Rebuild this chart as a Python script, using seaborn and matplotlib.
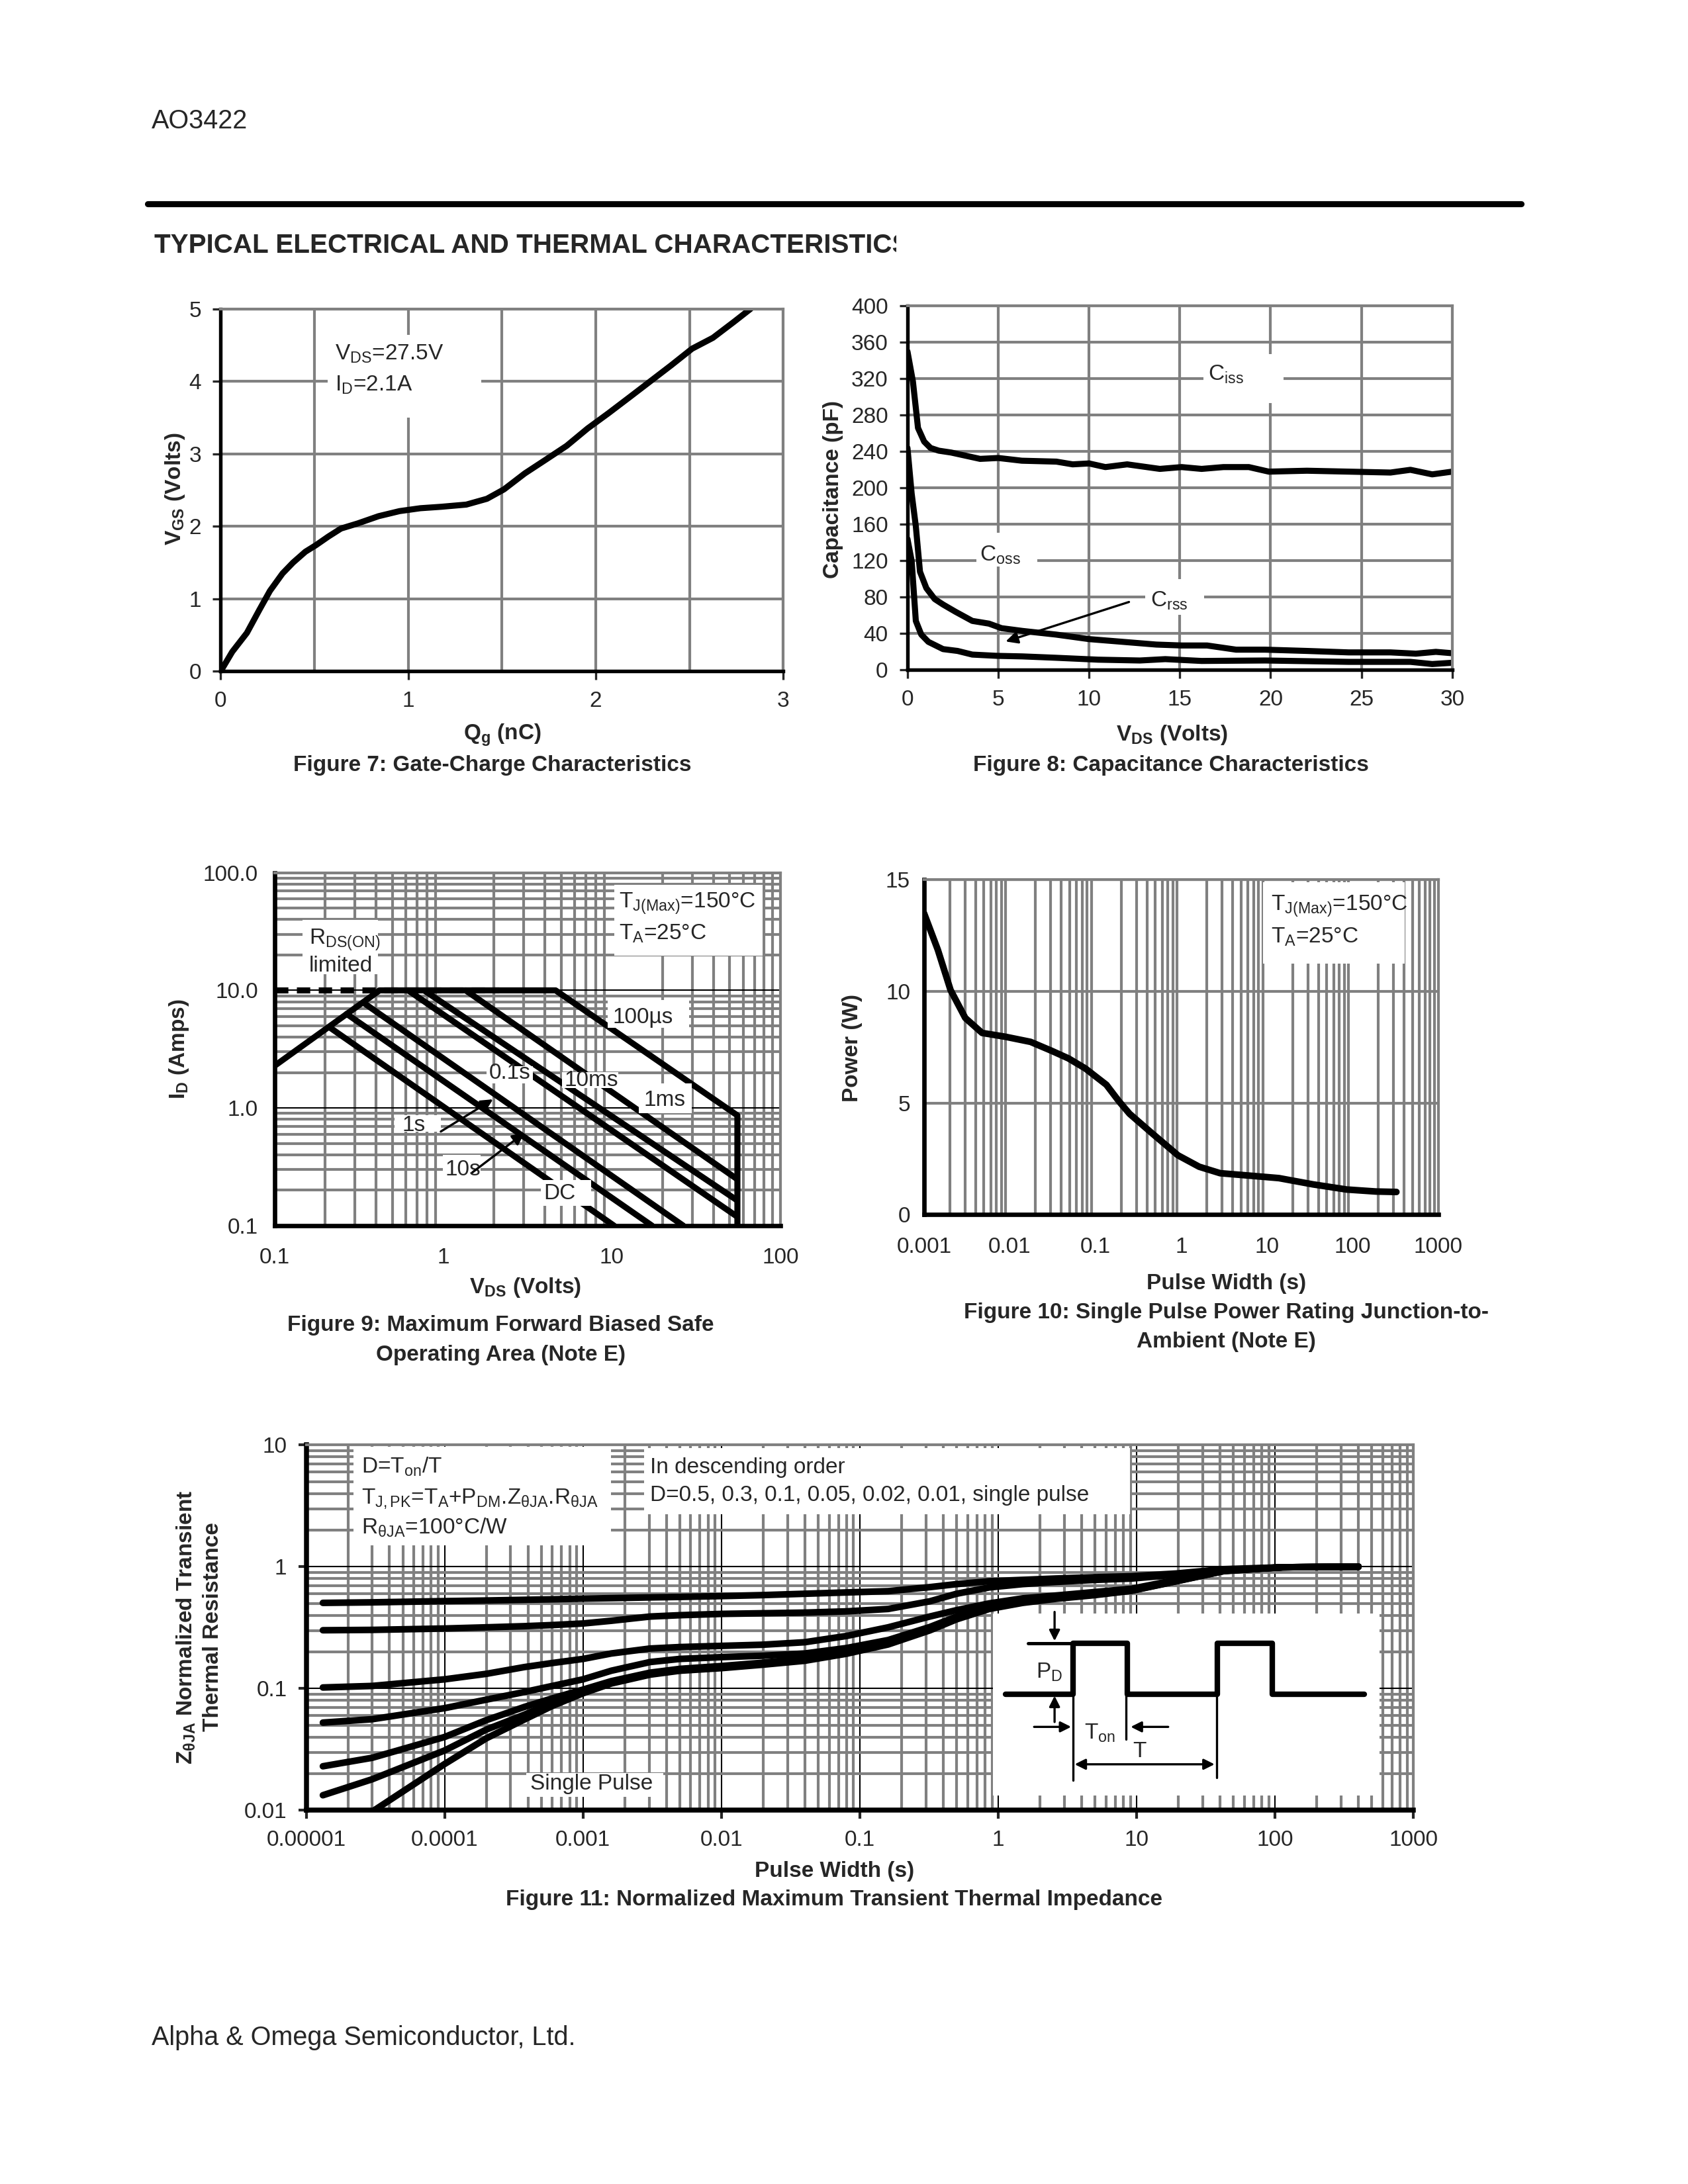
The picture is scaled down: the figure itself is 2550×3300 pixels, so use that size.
import matplotlib
matplotlib.use("Agg")
import matplotlib.pyplot as plt
from matplotlib.patches import Rectangle
from matplotlib.ticker import FixedLocator, FixedFormatter, MultipleLocator, LogLocator, NullFormatter
import seaborn as sns
import numpy as np
import pandas as pd

# Figure 7: gate charge
qg_nc = [0, 0.062, 0.14, 0.207, 0.263, 0.33, 0.386, 0.452, 0.508, 0.575, 0.642, 0.731,
         0.842, 0.954, 1.065, 1.177, 1.31, 1.42, 1.511, 1.622, 1.734, 1.845, 1.957,
         2.068, 2.18, 2.291, 2.402, 2.514, 2.625, 2.737, 2.826]
vgs_v = [0, 0.27, 0.53, 0.85, 1.11, 1.35, 1.50, 1.65, 1.74, 1.86, 1.97, 2.04,
         2.14, 2.21, 2.25, 2.27, 2.30, 2.38, 2.51, 2.73, 2.92, 3.11, 3.35,
         3.56, 3.78, 4.0, 4.22, 4.45, 4.60, 4.82, 5.0]

# Figure 8: capacitance
ciss_vds = [0, 0.3, 0.58, 0.92, 1.27, 1.73, 2.4, 4.0, 5.0, 6.3, 8.2, 9.1, 10, 10.9, 12.1,
            13.9, 15.1, 16.2, 17.4, 18.8, 19.9, 22, 24.3, 26.6, 27.7, 28.9, 30]
ciss_pf = [350, 317, 266, 251, 244, 241, 239, 232, 233, 230, 229, 226, 227, 223, 226,
           221, 223, 221, 223, 223, 218, 219, 218, 217, 220, 215, 218]
coss_vds = [0, 0.23, 0.46, 0.69, 1.04, 1.5, 1.96, 2.65, 3.57, 4.49, 5.18, 6.33, 8.17, 10,
            11.86, 13.7, 15.1, 16.5, 18.1, 19.7, 22, 24.3, 26.6, 28, 29.1, 30]
coss_pf = [244, 194, 158, 108, 90, 78, 72, 64, 54, 51, 46, 43, 39, 34,
           31, 28, 27, 27, 22.4, 22.4, 21, 19.4, 19.4, 18, 20, 18.5]
crss_vds = [0, 0.23, 0.46, 0.76, 1.15, 1.96, 2.76, 3.57, 4.95, 6.33, 8.17, 10.5, 12.8,
            14.2, 16.2, 19.7, 24.3, 27.7, 28.9, 30]
crss_pf = [144, 120, 54, 39, 31, 23, 21, 17, 15.6, 15, 13.5, 11.4, 10.5,
           12, 10, 10.5, 9, 9, 6.6, 8]

# Figure 9: safe operating area
soa_names = ["RDS(ON)", "100us", "1ms", "10ms", "0.1s", "1s", "10s", "DC"]
soa_vds = [[0.1, 0.42], [0.42, 4.64, 55.5, 55.5], [1.36, 55], [0.77, 55], [0.62, 55],
           [0.337, 26.5], [0.268, 17.3], [0.213, 10.3]]
soa_id = [[2.28, 10], [10, 10, 0.865, 0.1], [10, 0.25], [10, 0.165], [10, 0.12],
          [7.85, 0.1], [6.31, 0.1], [4.83, 0.1]]
soa_limit_vds = [0.1, 2.15]
soa_limit_id = [10, 10]

# Figure 10: single pulse power
pulse_s = [0.001, 0.00145, 0.00204, 0.00303, 0.00476, 0.00887, 0.0175, 0.0308, 0.0484,
           0.0762, 0.134, 0.188, 0.25, 0.466, 0.918, 1.62, 2.85, 6.3, 13.8, 34.4, 85, 187, 324]
power_w = [13.5, 11.86, 10.06, 8.81, 8.14, 7.97, 7.74, 7.34, 7.0,
           6.55, 5.82, 5.08, 4.52, 3.62, 2.66, 2.15, 1.86, 1.75, 1.64, 1.36, 1.13, 1.04, 1.02]

# Figure 11: transient thermal impedance
zth_t = [1.32e-5, 3e-5, 1e-4, 2e-4, 3.77e-4, 6e-4, 1e-3, 1.6e-3, 3.05e-3, 5e-3, 1e-2, 2e-2,
         4e-2, 8e-2, 0.16, 0.32, 0.5, 0.86, 1.5, 2.6, 5, 9.2, 19.4, 42.6, 113, 400]
zth_t_single = [3.1e-5] + zth_t[2:]
duty_names = ["0.5", "0.3", "0.1", "0.05", "0.02", "0.01", "single"]
zth_values = [
    [0.505, 0.51, 0.522, 0.528, 0.535, 0.54, 0.547, 0.552, 0.56, 0.565, 0.574, 0.585,
     0.60, 0.615, 0.63, 0.68, 0.72, 0.76, 0.78, 0.80, 0.82, 0.836, 0.88, 0.955, 0.99, 1.0],
    [0.301, 0.303, 0.311, 0.318, 0.325, 0.332, 0.342, 0.36, 0.39, 0.40, 0.41, 0.415,
     0.42, 0.43, 0.45, 0.52, 0.60, 0.676, 0.72, 0.75, 0.78, 0.80, 0.86, 0.94, 0.99, 1.0],
    [0.102, 0.105, 0.119, 0.132, 0.15, 0.162, 0.175, 0.194, 0.213, 0.219, 0.224, 0.229,
     0.24, 0.27, 0.318, 0.39, 0.44, 0.50, 0.55, 0.58, 0.62, 0.66, 0.78, 0.93, 0.99, 1.0],
    [0.0525, 0.056, 0.069, 0.081, 0.0936, 0.105, 0.119, 0.14, 0.165, 0.175, 0.181, 0.186,
     0.194, 0.215, 0.25, 0.32, 0.39, 0.47, 0.52, 0.56, 0.60, 0.645, 0.77, 0.93, 0.99, 1.0],
    [0.023, 0.027, 0.040, 0.055, 0.0706, 0.083, 0.098, 0.115, 0.135, 0.145, 0.153, 0.163,
     0.177, 0.20, 0.24, 0.31, 0.38, 0.46, 0.515, 0.555, 0.595, 0.64, 0.765, 0.925, 0.99, 1.0],
    [0.0133, 0.018, 0.031, 0.046, 0.061, 0.076, 0.0936, 0.112, 0.132, 0.142, 0.15, 0.16,
     0.173, 0.197, 0.235, 0.305, 0.375, 0.455, 0.51, 0.55, 0.59, 0.637, 0.762, 0.922, 0.99, 1.0],
    [0.01, 0.024, 0.039, 0.0557, 0.072, 0.0914, 0.11, 0.13, 0.14, 0.147, 0.157,
     0.169, 0.193, 0.23, 0.30, 0.37, 0.45, 0.505, 0.545, 0.585, 0.635, 0.76, 0.92, 0.99, 1.0],
]

# pulse sketch in the inset (inset units 0..100)
wave_u = [3.3, 20.7, 20.7, 34.8, 34.8, 58.2, 58.2, 72.3, 72.3, 96.2]
wave_v = [55.5, 55.5, 83.8, 83.8, 55.5, 55.5, 83.8, 83.8, 55.5, 55.5]

# tick labels
soa_xticks = [0.1, 1, 10, 100]
soa_xlabels = ["0.1", "1", "10", "100"]
soa_yticks = [0.1, 1, 10, 100]
soa_ylabels = ["0.1", "1.0", "10.0", "100.0"]
pw_xticks = [0.001, 0.01, 0.1, 1, 10, 100, 1000]
pw_xlabels = ["0.001", "0.01", "0.1", "1", "10", "100", "1000"]
zth_xticks = [1e-5, 1e-4, 1e-3, 1e-2, 0.1, 1, 10, 100, 1000]
zth_xlabels = ["0.00001", "0.0001", "0.001", "0.01", "0.1", "1", "10", "100", "1000"]
zth_yticks = [0.01, 0.1, 1, 10]
zth_ylabels = ["0.01", "0.1", "1", "10"]

sns.set_style("white")
plt.rcParams['font.family'] = ['Liberation Sans', 'DejaVu Sans']
plt.rcParams['mathtext.fontset'] = 'custom'
plt.rcParams['mathtext.rm'] = 'Liberation Sans'
plt.rcParams['mathtext.it'] = 'Liberation Sans:italic'
plt.rcParams['mathtext.bf'] = 'Liberation Sans:bold'
plt.rcParams['font.size'] = 8

GRID = '#808080'
FS = 8
LW = 2.2


def frame(ax, axis_lw=1.3):
    for s in ['left', 'bottom']:
        ax.spines[s].set_color('black')
        ax.spines[s].set_linewidth(axis_lw)
    for s in ['top', 'right']:
        ax.spines[s].set_color(GRID)
        ax.spines[s].set_linewidth(1.0)
    ax.set_axisbelow(True)
    ax.set_xlabel('')
    ax.set_ylabel('')


def blank(ax, x0, x1, y0, y1):
    ax.add_patch(Rectangle((x0, y0), x1 - x0, y1 - y0, facecolor='white',
                           edgecolor='none', zorder=3))


def label(ax, x, y, s, ha='center', **kw):
    ax.text(x, y, s, ha=ha, va='center', fontsize=FS, zorder=4, **kw)


fig = plt.figure(figsize=(8.5, 11), dpi=300)

# page header / footer
fig.text(0.0899, 0.9444, "AO3422", fontsize=9.5, va='center')
fig.add_artist(plt.Line2D([0.0874, 0.9012], [0.9066, 0.9066], color='black', lw=2.2))
ax_t = fig.add_axes([0.0915, 0.875, 0.531 - 0.0915, 0.025])
ax_t.set_xticks([]); ax_t.set_yticks([])
for s in ax_t.spines.values():
    s.set_visible(False)
ax_t.patch.set_alpha(0)
ax_t.text(0, 0.5, "TYPICAL ELECTRICAL AND THERMAL CHARACTERISTICS", transform=ax_t.transAxes,
          fontsize=9.7, fontweight='bold', va='center', ha='left', clip_on=True)
fig.text(0.0899, 0.0669, "Alpha & Omega Semiconductor, Ltd.", fontsize=9.5, va='center')

# ---------------- Figure 7 ----------------
ax7 = fig.add_axes([0.1307, 0.6926, 0.3333, 0.166])
sns.lineplot(x=qg_nc, y=vgs_v, ax=ax7, color='black', lw=LW, sort=False, estimator=None)
ax7.set_xlim(0, 3); ax7.set_ylim(0, 5)
ax7.xaxis.set_major_locator(MultipleLocator(1))
ax7.xaxis.set_minor_locator(MultipleLocator(0.5))
ax7.yaxis.set_major_locator(MultipleLocator(1))
ax7.grid(which='both', axis='x', color=GRID, lw=1.0)
ax7.grid(which='major', axis='y', color=GRID, lw=1.0)
ax7.tick_params(which='major', direction='out', length=3, width=0.8, pad=4, labelsize=FS,
                bottom=True, left=True)
ax7.tick_params(which='minor', length=0)
frame(ax7)
blank(ax7, 0.57, 1.39, 3.5, 4.64)
label(ax7, 0.61, 4.38, r"V$_\mathregular{DS}$=27.5V", ha='left')
label(ax7, 0.61, 3.95, r"I$_\mathregular{D}$=2.1A", ha='left')
fig.text(0.2974, 0.6635, r"$\mathbf{Q_g}$ (nC)", fontsize=FS, fontweight='bold', ha='center', va='center')
fig.text(0.2917, 0.6496, "Figure 7: Gate-Charge Characteristics", fontsize=FS, fontweight='bold',
         ha='center', va='center')
fig.text(0.1038, 0.776, r"$\mathbf{V_{GS}}$ (Volts)", fontsize=FS, fontweight='bold', rotation=90,
         ha='center', va='center')

# ---------------- Figure 8 ----------------
ax8 = fig.add_axes([0.5376, 0.6932, 0.3227, 0.1667])
sns.lineplot(x=ciss_vds, y=ciss_pf, ax=ax8, color='black', lw=LW, sort=False, estimator=None)
sns.lineplot(x=coss_vds, y=coss_pf, ax=ax8, color='black', lw=LW, sort=False, estimator=None)
sns.lineplot(x=crss_vds, y=crss_pf, ax=ax8, color='black', lw=LW, sort=False, estimator=None)
ax8.set_xlim(0, 30); ax8.set_ylim(0, 400)
ax8.xaxis.set_major_locator(MultipleLocator(5))
ax8.yaxis.set_major_locator(MultipleLocator(40))
ax8.grid(which='major', color=GRID, lw=1.0)
ax8.tick_params(which='major', direction='out', length=3, width=0.8, pad=4, labelsize=FS,
                bottom=True, left=True)
frame(ax8)
blank(ax8, 16.3, 20.7, 293, 347)
blank(ax8, 3.8, 7.14, 113.7, 151)
blank(ax8, 13.1, 16.35, 61, 100)
label(ax8, 17.55, 325, r"C$_\mathregular{iss}$")
label(ax8, 5.1, 126, r"C$_\mathregular{oss}$")
label(ax8, 14.4, 76, r"C$_\mathregular{rss}$")
ax8.annotate('', xy=(5.41, 31.4), xytext=(12.2, 74.8), zorder=4,
             arrowprops=dict(arrowstyle='-|>', color='black', lw=0.8, mutation_scale=9,
                             shrinkA=0, shrinkB=0))
fig.text(0.6944, 0.6635, r"$\mathbf{V_{DS}}$ (Volts)", fontsize=FS, fontweight='bold', ha='center', va='center')
fig.text(0.6936, 0.6496, "Figure 8: Capacitance Characteristics", fontsize=FS, fontweight='bold',
         ha='center', va='center')
fig.text(0.4935, 0.776, "Capacitance (pF)", fontsize=FS, fontweight='bold', rotation=90,
         ha='center', va='center')

# ---------------- Figure 9 ----------------
ax9 = fig.add_axes([0.1626, 0.4388, 0.2998, 0.1616])
ax9.set_xscale('log'); ax9.set_yscale('log')
soa_df = pd.DataFrame({
    'line': [n for n, v in zip(soa_names, soa_vds) for _ in v],
    'vds': [x for v in soa_vds for x in v],
    'id': [y for i in soa_id for y in i],
})
sns.lineplot(data=soa_df, x='vds', y='id', units='line', estimator=None, sort=False,
             color='black', lw=LW, ax=ax9)
sns.lineplot(x=soa_limit_vds, y=soa_limit_id, ax=ax9, color='black', lw=LW,
             linestyle=(0, (2.2, 1.4)), sort=False, estimator=None)
ax9.set_xlim(0.1, 100); ax9.set_ylim(0.1, 100)
ax9.xaxis.set_major_locator(FixedLocator(soa_xticks))
ax9.xaxis.set_major_formatter(FixedFormatter(soa_xlabels))
ax9.yaxis.set_major_locator(FixedLocator(soa_yticks))
ax9.yaxis.set_major_formatter(FixedFormatter(soa_ylabels))
for a in (ax9.xaxis, ax9.yaxis):
    a.set_minor_locator(LogLocator(base=10, subs=np.arange(2, 10)))
    a.set_minor_formatter(NullFormatter())
ax9.grid(which='minor', color=GRID, lw=1.0)
ax9.grid(which='major', axis='y', color='black', lw=0.5)
ax9.tick_params(which='both', length=0, labelsize=FS)
ax9.tick_params(axis='x', pad=8)
ax9.tick_params(axis='y', pad=6)
frame(ax9, axis_lw=1.6)
blank(ax9, 0.147, 0.412, 13.7, 39.8)
blank(ax9, 10.3, 78.2, 19.7, 78.5)
blank(ax9, 9.48, 28.8, 4.83, 8.24)
blank(ax9, 14.5, 29.7, 0.908, 1.62)
blank(ax9, 1.81, 3.4, 1.62, 2.28)
blank(ax9, 5.06, 10.9, 1.47, 2.02)
blank(ax9, 0.517, 0.968, 0.631, 0.865)
blank(ax9, 0.995, 1.66, 0.251, 0.398)
blank(ax9, 3.8, 7.55, 0.147, 0.245)
label(ax9, 0.16, 27, r"R$_\mathregular{DS(ON)}$", ha='left')
label(ax9, 0.16, 16.2, "limited", ha='left')
label(ax9, 11.0, 54.6, r"T$_\mathregular{J(Max)}$=150°C", ha='left')
label(ax9, 11.0, 30.5, r"T$_\mathregular{A}$=25°C", ha='left')
label(ax9, 15.3, 5.88, "100µs")
label(ax9, 20.5, 1.157, "1ms")
label(ax9, 2.48, 1.97, "0.1s")
label(ax9, 7.55, 1.71, "10ms")
label(ax9, 0.67, 0.712, "1s")
label(ax9, 1.31, 0.298, "10s")
label(ax9, 4.92, 0.188, "DC")
ax9.annotate('', xy=(1.975, 1.186), xytext=(0.968, 0.631), zorder=4,
             arrowprops=dict(arrowstyle='-|>', color='black', lw=0.8, mutation_scale=9,
                             shrinkA=0, shrinkB=0))
ax9.annotate('', xy=(3.03, 0.615), xytext=(1.49, 0.2836), zorder=4,
             arrowprops=dict(arrowstyle='-|>', color='black', lw=0.8, mutation_scale=9,
                             shrinkA=0, shrinkB=0))
fig.text(0.3113, 0.4104, r"$\mathbf{V_{DS}}$ (Volts)", fontsize=FS, fontweight='bold', ha='center', va='center')
fig.text(0.2966, 0.3933, "Figure 9: Maximum Forward Biased Safe", fontsize=FS, fontweight='bold',
         ha='center', va='center')
fig.text(0.2966, 0.3794, "Operating Area (Note E)", fontsize=FS, fontweight='bold',
         ha='center', va='center')
fig.text(0.1062, 0.5196, r"$\mathbf{I_D}$ (Amps)", fontsize=FS, fontweight='bold', rotation=90,
         ha='center', va='center')

# ---------------- Figure 10 ----------------
ax10 = fig.add_axes([0.5474, 0.4438, 0.3047, 0.1534])
ax10.set_xscale('log')
sns.lineplot(x=pulse_s, y=power_w, ax=ax10, color='black', lw=LW + 0.2, sort=False,
             estimator=None, solid_capstyle='round')
ax10.set_xlim(0.001, 1000); ax10.set_ylim(0, 15)
ax10.xaxis.set_major_locator(FixedLocator(pw_xticks))
ax10.xaxis.set_major_formatter(FixedFormatter(pw_xlabels))
ax10.xaxis.set_minor_locator(LogLocator(base=10, subs=np.arange(2, 10)))
ax10.xaxis.set_minor_formatter(NullFormatter())
ax10.yaxis.set_major_locator(MultipleLocator(5))
ax10.grid(which='minor', axis='x', color=GRID, lw=1.0)
ax10.grid(which='major', axis='y', color=GRID, lw=1.0)
ax10.tick_params(which='both', length=0, labelsize=FS)
ax10.tick_params(axis='x', pad=8)
ax10.tick_params(axis='y', pad=5)
frame(ax10, axis_lw=1.6)
blank(ax10, 9.04, 404, 11.24, 14.9)
label(ax10, 11.07, 13.8, r"T$_\mathregular{J(Max)}$=150°C", ha='left')
label(ax10, 11.07, 12.43, r"T$_\mathregular{A}$=25°C", ha='left')
fig.text(0.7263, 0.4122, "Pulse Width (s)", fontsize=FS, fontweight='bold', ha='center', va='center')
fig.text(0.7263, 0.3990, "Figure 10: Single Pulse Power Rating Junction-to-", fontsize=FS,
         fontweight='bold', ha='center', va='center')
fig.text(0.7263, 0.3857, "Ambient (Note E)", fontsize=FS, fontweight='bold', ha='center', va='center')
fig.text(0.5049, 0.5202, "Power (W)", fontsize=FS, fontweight='bold', rotation=90,
         ha='center', va='center')

# ---------------- Figure 11 ----------------
ax11 = fig.add_axes([0.1814, 0.1711, 0.656, 0.1673])
ax11.set_xscale('log'); ax11.set_yscale('log')
zth_df = pd.DataFrame({
    'duty': [d for d, v in zip(duty_names, zth_values) for _ in v],
    't': [x for d in duty_names for x in (zth_t_single if d == 'single' else zth_t)],
    'z': [z for v in zth_values for z in v],
})
sns.lineplot(data=zth_df, x='t', y='z', units='duty', estimator=None, sort=False,
             color='black', lw=LW + 0.2, ax=ax11, solid_capstyle='round')
ax11.set_xlim(1e-5, 1000); ax11.set_ylim(0.01, 10)
ax11.xaxis.set_major_locator(FixedLocator(zth_xticks))
ax11.xaxis.set_major_formatter(FixedFormatter(zth_xlabels))
ax11.yaxis.set_major_locator(FixedLocator(zth_yticks))
ax11.yaxis.set_major_formatter(FixedFormatter(zth_ylabels))
for a in (ax11.xaxis, ax11.yaxis):
    a.set_minor_locator(LogLocator(base=10, subs=np.arange(2, 10)))
    a.set_minor_formatter(NullFormatter())
ax11.grid(which='minor', color=GRID, lw=1.0)
ax11.grid(which='major', color='black', lw=0.5)
ax11.tick_params(which='major', direction='out', length=3, width=1.0, pad=4, labelsize=FS,
                 bottom=True, left=True)
ax11.tick_params(which='minor', length=0)
frame(ax11, axis_lw=1.8)
blank(ax11, 2.2e-5, 1.6e-3, 1.5, 9.65)
blank(ax11, 2.75e-3, 8.9, 2.7, 9.4)
blank(ax11, 3.9e-4, 3.8e-3, 0.0129, 0.0203)
label(ax11, 2.5e-5, 6.64, r"D=T$_\mathregular{on}$/T", ha='left')
label(ax11, 2.5e-5, 3.6, r"T$_\mathregular{J,PK}$=T$_\mathregular{A}$+P$_\mathregular{DM}$.Z$_\mathregular{\theta JA}$.R$_\mathregular{\theta JA}$", ha='left')
label(ax11, 2.5e-5, 2.1, r"R$_\mathregular{\theta JA}$=100°C/W", ha='left')
label(ax11, 3.05e-3, 6.48, "In descending order", ha='left')
label(ax11, 3.05e-3, 3.86, "D=0.5, 0.3, 0.1, 0.05, 0.02, 0.01, single pulse", ha='left')
label(ax11, 1.15e-3, 0.01655, "Single Pulse")

ins = ax11.inset_axes([0.620, 0.041, 0.349, 0.497], zorder=5)
ins.set_xlim(0, 100); ins.set_ylim(0, 100)
ins.set_xticks([]); ins.set_yticks([])
for s in ins.spines.values():
    s.set_visible(False)
ins.set_facecolor('white')
sns.lineplot(x=wave_u, y=wave_v, ax=ins, color='black', lw=2.0, sort=False, estimator=None)
ins.plot([9.2, 20.7], [83.8, 83.8], color='black', lw=1.2)
for u, v_bot in [(20.7, 8.2), (34.5, 30.8), (57.9, 9.6)]:
    ins.plot([u, u], [54.8, v_bot], color='black', lw=0.8)
arrow_kw = dict(arrowstyle='-|>', color='black', lw=0.8, mutation_scale=8, shrinkA=0, shrinkB=0)
ins.annotate('', xy=(16.0, 85), xytext=(16.0, 101), arrowprops=arrow_kw, annotation_clip=False)
ins.annotate('', xy=(16.0, 54.8), xytext=(16.0, 40.4), arrowprops=arrow_kw)
ins.annotate('', xy=(20.3, 37.7), xytext=(10.7, 37.7), arrowprops=arrow_kw)
ins.annotate('', xy=(35.7, 37.7), xytext=(45.4, 37.7), arrowprops=arrow_kw)
ins.annotate('', xy=(57.4, 17.1), xytext=(21.2, 17.1),
             arrowprops=dict(arrowstyle='<|-|>', color='black', lw=0.8, mutation_scale=8,
                             shrinkA=0, shrinkB=0))
ins.text(14.7, 67.8, r"P$_\mathregular{D}$", fontsize=FS, ha='center', va='center')
ins.text(27.7, 34.2, r"T$_\mathregular{on}$", fontsize=FS, ha='center', va='center')
ins.text(38.0, 24.0, "T", fontsize=FS, ha='center', va='center')

fig.text(0.4943, 0.1433, "Pulse Width (s)", fontsize=FS, fontweight='bold', ha='center', va='center')
fig.text(0.4943, 0.1300, "Figure 11: Normalized Maximum Transient Thermal Impedance", fontsize=FS,
         fontweight='bold', ha='center', va='center')
fig.text(0.118, 0.255, r"$\mathbf{Z_{\theta JA}}$ Normalized Transient" + "\nThermal Resistance",
         fontsize=FS, fontweight='bold', rotation=90, ha='center', va='center', linespacing=1.3)

fig.savefig("out.png", dpi=300, facecolor='white')
